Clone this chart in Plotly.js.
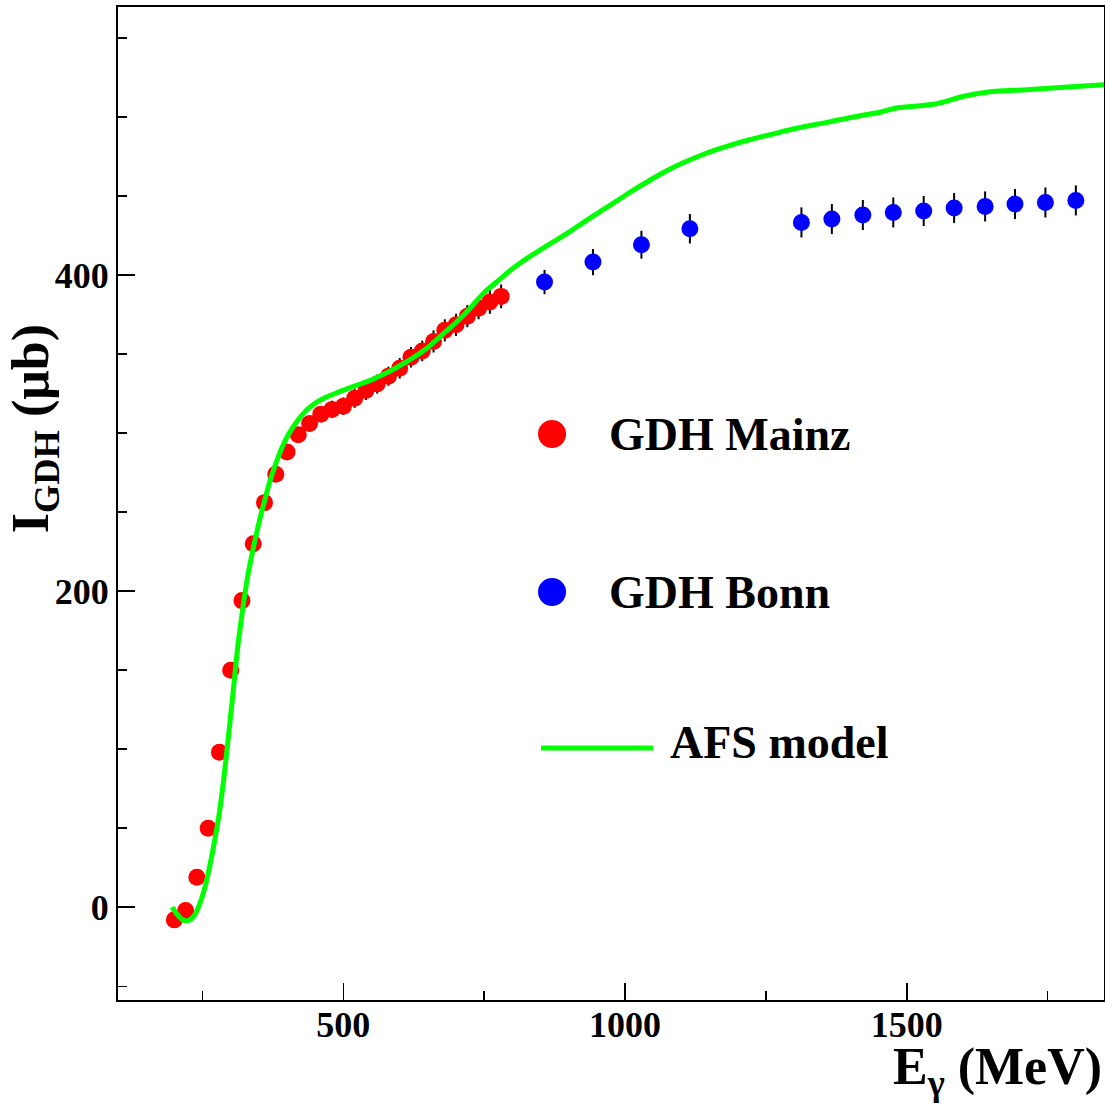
<!DOCTYPE html>
<html>
<head>
<meta charset="utf-8">
<script src="https://cdn.plot.ly/plotly-3.0.1.min.js"></script>
<style>html,body{margin:0;padding:0;background:#fff;}#chart{width:1105px;height:1105px;}</style>
</head>
<body>
<div id="chart"></div>
<script>
// GDH Mainz data
const mainzE = [200,220,240,260,280,300,320,340,360,380,400,420,440,460,480,500,520,540,560,580,600,620,640,660,680,700,720,740,760,780];
const mainzI = [-8,-2,19,50,98,150,194,230,256,274,288,299,306,312,315,317,322,327,331,336,341,348,352,358,365,368.5,374,379,383,386.5];
const mainzErr = [1,1,1,1.5,1.5,2,2,3,3,3.5,4,4.5,5,5,5.5,5.5,6,6,6,6,6.5,6.5,6.5,7,7,7,7,7,7.5,7.5];

// GDH Bonn data
const bonnE = [857,943,1029,1115,1313,1367,1422,1476,1530,1584,1639,1692,1746,1800];
const bonnI = [395.6,408.2,419.2,429.3,433.3,435.4,438,439.6,440.5,442.4,443.4,444.9,445.9,447.2];
const bonnErr = [7.7,8.3,8.8,9.3,9.5,9.5,9.5,9.5,9.5,9.5,9.5,9.5,9.5,9.5];

// AFS model curve
const afsE = [196,205,213,220,227,234,241,248,256,264,272,280,288,296,304,312,320,330,340,350,360,370,380,390,400,410,420,430,440,455,470,490,510,530,550,575,600,625,650,675,700,725,750,775,800,830,866,900,925,955,984,1014,1044,1074,1103,1133,1162,1192,1221,1260,1298,1358,1417,1452,1482,1550,1600,1645,1713,1772,1850];
const afsI = [0,-4.5,-7.5,-8.5,-8,-6,-1.5,5,15,28,43,60,82,108,135,163,185,209,227,243,257,270,280.6,290,297.5,303.5,308.5,312.8,316.2,320,322.8,325.8,328.5,331,333.7,337.8,342.6,348,354.2,362.2,370,379,389,396.5,404,411.5,419.5,427,433,440,446.6,453.5,460,466,471,475.5,479.3,482.7,485.6,489,492.4,496.6,500.8,503,505.7,508.2,513,515.8,517.3,518.7,520.4];

const legendNames = ["GDH Mainz", "GDH Bonn", "AFS model"];
const xTitle = "E<sub>γ</sub> (MeV)";
const yTitle = "I<sub>GDH</sub> (μb)";

const FONT = "Liberation Serif, Times New Roman, serif";

const traces = [
  {x: mainzE, y: mainzI, type: 'scatter', mode: 'markers', name: legendNames[0],
   marker: {color: '#ff0000', size: 17},
   error_y: {type: 'data', array: mainzErr, visible: true, color: '#000', thickness: 2, width: 0}},
  {x: bonnE, y: bonnI, type: 'scatter', mode: 'markers', name: legendNames[1],
   marker: {color: '#0000ff', size: 17},
   error_y: {type: 'data', array: bonnErr, visible: true, color: '#000', thickness: 2, width: 0}},
  {x: afsE, y: afsI, type: 'scatter', mode: 'lines', name: legendNames[2],
   line: {color: '#00ff00', width: 5, shape: 'spline', smoothing: 1}}
];

const axisCommon = {
  showgrid: false, zeroline: false,
  showline: true, linecolor: '#000', linewidth: 2, mirror: true,
  ticks: 'inside', ticklen: 17, tickwidth: 1.5, tickcolor: '#000',
  tickfont: {family: FONT, size: 36, color: '#000', weight: 'bold'},
};

const layout = {
  width: 1105, height: 1105,
  margin: {l: 118, r: 1, t: 7, b: 105},
  paper_bgcolor: '#fff', plot_bgcolor: '#fff',
  showlegend: false,
  xaxis: Object.assign({}, axisCommon, {
    range: [100, 1850], tick0: 0, dtick: 500,
    minor: {dtick: 250, ticks: 'inside', ticklen: 9, tickwidth: 1.5, tickcolor: '#000', showgrid: false},
    ticklabelstandoff: -8
  }),
  yaxis: Object.assign({}, axisCommon, {
    range: [-58.7, 569.6], tick0: 0, dtick: 200,
    minor: {dtick: 50, ticks: 'inside', ticklen: 9, tickwidth: 1.5, tickcolor: '#000', showgrid: false},
    ticklabelstandoff: 0
  }),
  annotations: [
    {xref: 'paper', yref: 'paper', x: 1.0, y: -0.071, xanchor: 'right', yanchor: 'middle',
     text: xTitle, showarrow: false, font: {family: FONT, size: 52, color: '#000', weight: 'bold'}},
    {xref: 'paper', yref: 'paper', x: -0.085, y: 0.575, xanchor: 'center', yanchor: 'middle',
     textangle: -90, text: yTitle, showarrow: false, font: {family: FONT, size: 52, color: '#000', weight: 'bold'}},
    {xref: 'paper', yref: 'paper', x: 0.496, y: 0.569, xanchor: 'left', yanchor: 'middle',
     text: legendNames[0], showarrow: false, font: {family: FONT, size: 46, color: '#000', weight: 'bold'}},
    {xref: 'paper', yref: 'paper', x: 0.496, y: 0.410, xanchor: 'left', yanchor: 'middle',
     text: legendNames[1], showarrow: false, font: {family: FONT, size: 46, color: '#000', weight: 'bold'}},
    {xref: 'paper', yref: 'paper', x: 0.558, y: 0.259, xanchor: 'left', yanchor: 'middle',
     text: legendNames[2], showarrow: false, font: {family: FONT, size: 46, color: '#000', weight: 'bold'}}
  ],
  shapes: [
    {type: 'circle', xref: 'paper', yref: 'paper', xsizemode: 'pixel', ysizemode: 'pixel',
     xanchor: 0.4402, yanchor: 0.570, x0: -14, x1: 14, y0: -14, y1: 14,
     fillcolor: '#ff0000', line: {width: 0}},
    {type: 'circle', xref: 'paper', yref: 'paper', xsizemode: 'pixel', ysizemode: 'pixel',
     xanchor: 0.4402, yanchor: 0.4109, x0: -14, x1: 14, y0: -14, y1: 14,
     fillcolor: '#0000ff', line: {width: 0}},
    {type: 'line', xref: 'paper', yref: 'paper', x0: 0.429, x1: 0.5426, y0: 0.2538, y1: 0.2538,
     line: {color: '#00ff00', width: 5}}
  ]
};

Plotly.newPlot('chart', traces, layout, {displayModeBar: false, staticPlot: true});
</script>
</body>
</html>
